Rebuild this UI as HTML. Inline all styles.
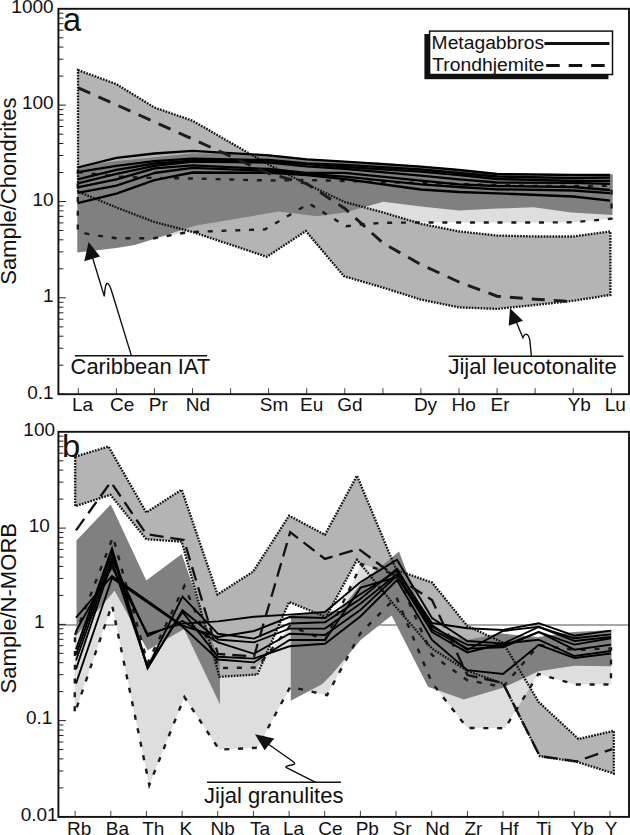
<!DOCTYPE html>
<html><head><meta charset="utf-8"><title>REE and trace element patterns</title>
<style>html,body{margin:0;padding:0;background:#fff}body{width:630px;height:835px;overflow:hidden}svg text{font-family:'Liberation Sans', Arial, Helvetica, sans-serif;}</style>
</head><body>
<svg width="630" height="835" viewBox="0 0 630 835" style="display:block" font-family='"Liberation Sans", Arial, Helvetica, sans-serif' fill="#111">
<rect width="630" height="835" fill="#fff"/>
<polygon points="77.8,172.0 116.4,176.5 154.4,178.0 192.5,178.5 268.6,180.5 306.7,180.0 344.8,181.0 382.9,182.0 420.9,183.0 459.0,184.0 497.1,185.0 535.1,186.0 573.2,186.0 611.5,185.7 611.5,218.7 573.2,222.3 535.1,222.5 497.1,222.5 459.0,222.5 420.9,222.5 382.9,222.8 365.0,224.0 346.0,226.3 309.0,203.5 265.0,229.4 230.7,230.5 192.5,232.0 183.0,233.0 154.4,238.2 116.4,238.2 90.0,234.5 77.8,231.5" fill="#dedede"/>
<polygon points="78.0,70.1 116.4,84.1 154.4,107.5 192.5,120.7 268.6,164.6 306.7,184.2 344.8,202.0 382.9,212.4 420.9,223.8 459.0,231.4 497.1,235.5 535.1,236.5 573.2,236.5 610.4,231.4 610.4,294.9 573.2,300.8 535.1,305.0 497.1,308.9 459.0,307.4 420.9,299.6 382.9,287.6 344.0,276.2 305.8,231.0 266.8,256.8 192.5,232.0 154.4,222.0 116.4,207.5 78.0,191.6" fill="#b4b4b4"/>
<polygon points="77.3,166.5 116.4,161.0 154.4,157.3 192.5,153.3 230.0,153.5 268.6,154.5 306.7,158.5 344.8,161.0 382.9,162.8 420.9,166.0 459.0,169.3 497.1,173.2 535.1,173.8 573.2,174.0 612.8,174.3 612.5,214.9 571.6,212.4 533.5,207.3 497.0,208.6 459.0,210.6 421.0,206.5 383.2,201.7 345.0,212.4 316.8,216.2 278.7,211.6 196.0,225.4 135.0,245.0 116.4,248.0 77.3,252.4" fill="#808080"/>
<polygon points="78.0,70.1 116.4,84.1 154.4,107.5 192.5,120.7 268.6,164.6 306.7,184.2 344.8,202.0 382.9,212.4 420.9,223.8 459.0,231.4 497.1,235.5 535.1,236.5 573.2,236.5 610.4,231.4 610.4,294.9 573.2,300.8 535.1,305.0 497.1,308.9 459.0,307.4 420.9,299.6 382.9,287.6 344.0,276.2 305.8,231.0 266.8,256.8 192.5,232.0 154.4,222.0 116.4,207.5 78.0,191.6" stroke="#111" stroke-width="2.3" stroke-dasharray="1.7 1.25" fill="none" stroke-linejoin="miter"/>
<polygon points="77.8,172.0 116.4,176.5 154.4,178.0 192.5,178.5 268.6,180.5 306.7,180.0 344.8,181.0 382.9,182.0 420.9,183.0 459.0,184.0 497.1,185.0 535.1,186.0 573.2,186.0 611.5,185.7 611.5,218.7 573.2,222.3 535.1,222.5 497.1,222.5 459.0,222.5 420.9,222.5 382.9,222.8 365.0,224.0 346.0,226.3 309.0,203.5 265.0,229.4 230.7,230.5 192.5,232.0 183.0,233.0 154.4,238.2 116.4,238.2 90.0,234.5 77.8,231.5" stroke="#1a1a1a" stroke-width="2.4" stroke-dasharray="5 8.8" fill="none"/>
<polyline points="77.6,167.5 116.4,157.9 154.4,153.5 192.5,150.8 268.6,155.3 306.7,159.3 344.8,161.7 420.9,166.7 459.0,170.0 497.1,174.0 573.2,175.0 610.0,175.0" fill="none" stroke="#000" stroke-width="2.3" stroke-linejoin="round"/>
<polyline points="77.6,172.2 116.4,165.9 154.4,161.1 192.5,158.7 268.6,160.0 306.7,163.3 344.8,164.8 420.9,169.5 459.0,173.0 497.1,176.5 573.2,178.1 610.0,177.7" fill="none" stroke="#000" stroke-width="2.3" stroke-linejoin="round"/>
<polyline points="77.6,179.4 116.4,169.8 154.4,163.5 192.5,160.6 268.6,161.7 306.7,164.0 344.8,167.0 420.9,171.7 459.0,175.0 497.1,179.0 573.2,180.8 610.0,180.8" fill="none" stroke="#000" stroke-width="2.3" stroke-linejoin="round"/>
<polyline points="77.6,183.3 116.4,173.8 154.4,165.9 192.5,161.5 268.6,162.5 306.7,166.4 344.8,168.8 420.9,175.6 459.0,179.4 497.1,182.5 573.2,182.9 610.0,183.9" fill="none" stroke="#000" stroke-width="2.3" stroke-linejoin="round"/>
<polyline points="77.6,187.3 116.4,179.4 154.4,168.3 192.5,165.4 268.6,169.0 306.7,172.8 344.8,172.8 420.9,180.6 459.0,184.4 497.1,186.0 573.2,187.0 610.0,190.0" fill="none" stroke="#000" stroke-width="2.3" stroke-linejoin="round"/>
<polyline points="77.6,192.9 116.4,185.7 154.4,173.0 192.5,167.8 268.6,171.0 306.7,174.0 344.8,176.7 420.9,184.4 459.0,187.0 497.1,189.3 573.2,190.5 610.0,193.2" fill="none" stroke="#000" stroke-width="2.3" stroke-linejoin="round"/>
<polyline points="77.6,203.2 116.4,193.7 154.4,180.2 192.5,172.5 268.6,172.8 306.7,175.2 344.8,179.1 420.9,189.5 459.0,192.0 497.1,193.3 573.2,196.5 610.0,200.6" fill="none" stroke="#000" stroke-width="2.3" stroke-linejoin="round"/>
<polyline points="78.3,87.9 116.4,104.8 154.4,121.9 192.5,139.0 268.6,173.5 306.7,183.7 344.8,208.5 382.9,243.0 420.9,264.5 459.0,282.0 497.1,296.2 535.1,299.2 568.0,301.3" fill="none" stroke="#1c1c1c" stroke-width="2.9" stroke-dasharray="13 9"/>
<line x1="58.4" y1="625.0" x2="629.0" y2="625.0" stroke="#8a8a8a" stroke-width="1.6"/>
<polygon points="75.2,456.7 108.5,446.5 146.3,512.5 181.7,489.7 217.5,594.5 253.2,571.6 289.1,515.7 324.9,534.8 357.0,475.7 396.3,570.0 432.0,582.5 467.3,626.0 503.0,642.5 538.7,702.0 578.5,739.0 613.8,730.8 613.8,773.5 576.7,761.8 539.8,756.2 503.0,683.5 467.3,671.0 432.0,648.6 396.3,607.4 357.0,559.8 326.0,617.0 289.1,602.0 257.3,674.5 219.4,676.8 181.7,541.7 146.3,539.2 110.5,494.8 75.2,506.2" fill="#b4b4b4"/>
<polygon points="75.0,635.0 113.0,537.0 147.6,663.0 184.4,586.0 219.3,668.0 257.0,667.5 290.0,626.0 325.0,640.0 361.5,564.0 397.0,575.0 432.0,655.0 467.0,680.0 503.0,687.0 538.7,645.0 575.0,650.0 611.0,648.4 611.0,684.5 575.4,684.5 538.4,674.0 505.0,728.2 467.3,728.0 432.0,683.0 396.3,597.0 360.6,633.0 327.0,695.2 290.3,686.8 257.3,747.8 219.2,749.6 184.4,697.0 149.3,785.0 112.0,604.8 74.7,713.5" fill="#dedede"/>
<polygon points="219.4,667.0 257.3,666.5 257.3,674.5 219.4,676.8" fill="#b4b4b4"/>
<polygon points="76.5,540.5 110.8,504.4 146.3,580.6 181.7,554.0 219.8,663.0 220.0,704.6 184.0,629.0 147.6,650.3 114.6,590.8 76.5,635.2" fill="#808080"/>
<polygon points="290.8,614.6 340.0,610.8 362.2,582.0 399.0,551.4 414.6,592.4 432.0,630.0 467.0,640.0 499.2,633.3 538.0,637.0 574.0,632.0 611.5,630.0 611.5,666.2 574.3,665.7 538.6,671.3 503.0,687.8 463.7,699.5 428.0,686.8 391.6,615.4 360.6,640.0 332.2,674.0 322.0,684.3 290.8,700.8" fill="#808080"/>
<polygon points="75.2,456.7 108.5,446.5 146.3,512.5 181.7,489.7 217.5,594.5 253.2,571.6 289.1,515.7 324.9,534.8 357.0,475.7 396.3,570.0 432.0,582.5 467.3,626.0 503.0,642.5 538.7,702.0 578.5,739.0 613.8,730.8 613.8,773.5 576.7,761.8 539.8,756.2 503.0,683.5 467.3,671.0 432.0,648.6 396.3,607.4 357.0,559.8 326.0,617.0 289.1,602.0 257.3,674.5 219.4,676.8 181.7,541.7 146.3,539.2 110.5,494.8 75.2,506.2" stroke="#111" stroke-width="2.3" stroke-dasharray="1.7 1.25" fill="none" stroke-linejoin="miter"/>
<polygon points="75.0,635.0 113.0,537.0 147.6,663.0 184.4,586.0 219.3,668.0 257.0,667.5 290.0,626.0 325.0,640.0 361.5,564.0 397.0,575.0 432.0,655.0 467.0,680.0 503.0,687.0 538.7,645.0 575.0,650.0 611.0,648.4 611.0,684.5 575.4,684.5 538.4,674.0 505.0,728.2 467.3,728.0 432.0,683.0 396.3,597.0 360.6,633.0 327.0,695.2 290.3,686.8 257.3,747.8 219.2,749.6 184.4,697.0 149.3,785.0 112.0,604.8 74.7,713.5" stroke="#1a1a1a" stroke-width="2.4" stroke-dasharray="5 8.8" fill="none"/>
<polyline points="76.0,617.6 112.0,576.0 182.5,625.6 218.0,637.0 254.0,631.0 289.5,617.0 325.0,618.0 360.6,594.0 397.0,571.0 432.0,623.0 467.3,628.3 503.0,630.0 538.7,623.2 574.5,635.7 611.0,630.6" fill="none" stroke="#000" stroke-width="1.9" stroke-linejoin="miter"/>
<polyline points="76.0,631.1 112.0,566.8 147.6,633.9 182.5,623.6 218.0,621.4 254.0,616.7 289.5,614.6 325.0,612.0 360.6,582.0 397.0,559.8 432.0,618.0 467.3,641.0 503.0,643.5 538.7,627.0 574.5,638.3 611.0,634.4" fill="none" stroke="#000" stroke-width="1.9" stroke-linejoin="miter"/>
<polyline points="76.0,649.4 112.0,548.3 147.6,667.5 182.5,596.7 218.0,633.8 254.0,638.6 289.5,623.5 325.0,622.2 360.6,598.7 397.0,568.6 432.0,627.0 467.3,644.8 503.0,646.0 538.7,632.0 574.5,644.6 611.0,638.3" fill="none" stroke="#000" stroke-width="1.9" stroke-linejoin="miter"/>
<polyline points="76.0,654.9 112.0,553.0 147.6,668.5 182.5,610.2 218.0,639.5 254.0,642.4 289.5,628.6 325.0,628.6 360.6,603.5 397.0,574.0 432.0,629.5 467.3,648.6 503.0,647.3 538.7,632.0 574.5,649.7 611.0,644.6" fill="none" stroke="#000" stroke-width="1.9" stroke-linejoin="miter"/>
<polyline points="76.0,660.5 112.0,558.6 147.6,636.0 182.5,621.0 218.0,642.4 254.0,653.8 289.5,633.7 325.0,635.0 360.6,609.8 397.0,575.7 432.0,632.0 467.3,652.4 503.0,643.5 538.7,639.7 574.5,656.0 611.0,651.0" fill="none" stroke="#000" stroke-width="1.9" stroke-linejoin="miter"/>
<polyline points="76.0,669.2 112.0,562.0 147.6,667.0 182.5,612.0 218.0,656.7 254.0,658.6 289.5,646.3 325.0,643.8 360.6,616.2 397.0,580.0 432.0,640.0 467.3,670.2 503.0,674.0 538.7,644.8 574.5,658.0 611.0,653.5" fill="none" stroke="#000" stroke-width="1.9" stroke-linejoin="miter"/>
<polyline points="76.0,683.5 112.0,578.0 182.5,626.5 218.0,659.5 254.0,662.4 289.5,640.0 325.0,640.0 360.6,587.6 397.0,577.0 432.0,625.0 467.3,650.0 503.0,631.0 538.7,626.8 574.5,641.0 611.0,637.0" fill="none" stroke="#000" stroke-width="1.9" stroke-linejoin="miter"/>
<polyline points="76.0,530.3 110.8,482.0 146.3,534.1 184.0,540.0 218.0,654.0 254.0,656.5 290.2,532.2 324.9,558.9 358.5,548.9 396.3,577.0 432.0,600.0 467.3,675.0 503.0,683.0 539.8,756.2 576.7,761.3 612.2,749.1" fill="none" stroke="#111" stroke-width="2.3" stroke-dasharray="14 7"/>
<line x1="58.4" y1="105.1" x2="65.9" y2="105.1" stroke="#222" stroke-width="1"/>
<line x1="58.4" y1="76.1" x2="63.4" y2="76.1" stroke="#222" stroke-width="1"/>
<line x1="58.4" y1="59.2" x2="63.4" y2="59.2" stroke="#222" stroke-width="1"/>
<line x1="58.4" y1="47.1" x2="63.4" y2="47.1" stroke="#222" stroke-width="1"/>
<line x1="58.4" y1="37.8" x2="63.4" y2="37.8" stroke="#222" stroke-width="1"/>
<line x1="58.4" y1="30.2" x2="63.4" y2="30.2" stroke="#222" stroke-width="1"/>
<line x1="58.4" y1="23.7" x2="63.4" y2="23.7" stroke="#222" stroke-width="1"/>
<line x1="58.4" y1="18.1" x2="63.4" y2="18.1" stroke="#222" stroke-width="1"/>
<line x1="58.4" y1="13.2" x2="63.4" y2="13.2" stroke="#222" stroke-width="1"/>
<line x1="58.4" y1="201.5" x2="65.9" y2="201.5" stroke="#222" stroke-width="1"/>
<line x1="58.4" y1="172.5" x2="63.4" y2="172.5" stroke="#222" stroke-width="1"/>
<line x1="58.4" y1="155.5" x2="63.4" y2="155.5" stroke="#222" stroke-width="1"/>
<line x1="58.4" y1="143.5" x2="63.4" y2="143.5" stroke="#222" stroke-width="1"/>
<line x1="58.4" y1="134.2" x2="63.4" y2="134.2" stroke="#222" stroke-width="1"/>
<line x1="58.4" y1="126.5" x2="63.4" y2="126.5" stroke="#222" stroke-width="1"/>
<line x1="58.4" y1="120.1" x2="63.4" y2="120.1" stroke="#222" stroke-width="1"/>
<line x1="58.4" y1="114.5" x2="63.4" y2="114.5" stroke="#222" stroke-width="1"/>
<line x1="58.4" y1="109.6" x2="63.4" y2="109.6" stroke="#222" stroke-width="1"/>
<line x1="58.4" y1="297.8" x2="65.9" y2="297.8" stroke="#222" stroke-width="1"/>
<line x1="58.4" y1="268.8" x2="63.4" y2="268.8" stroke="#222" stroke-width="1"/>
<line x1="58.4" y1="251.9" x2="63.4" y2="251.9" stroke="#222" stroke-width="1"/>
<line x1="58.4" y1="239.8" x2="63.4" y2="239.8" stroke="#222" stroke-width="1"/>
<line x1="58.4" y1="230.5" x2="63.4" y2="230.5" stroke="#222" stroke-width="1"/>
<line x1="58.4" y1="222.9" x2="63.4" y2="222.9" stroke="#222" stroke-width="1"/>
<line x1="58.4" y1="216.4" x2="63.4" y2="216.4" stroke="#222" stroke-width="1"/>
<line x1="58.4" y1="210.8" x2="63.4" y2="210.8" stroke="#222" stroke-width="1"/>
<line x1="58.4" y1="205.9" x2="63.4" y2="205.9" stroke="#222" stroke-width="1"/>
<line x1="58.4" y1="394.2" x2="65.9" y2="394.2" stroke="#222" stroke-width="1"/>
<line x1="58.4" y1="365.2" x2="63.4" y2="365.2" stroke="#222" stroke-width="1"/>
<line x1="58.4" y1="348.2" x2="63.4" y2="348.2" stroke="#222" stroke-width="1"/>
<line x1="58.4" y1="336.2" x2="63.4" y2="336.2" stroke="#222" stroke-width="1"/>
<line x1="58.4" y1="326.9" x2="63.4" y2="326.9" stroke="#222" stroke-width="1"/>
<line x1="58.4" y1="319.2" x2="63.4" y2="319.2" stroke="#222" stroke-width="1"/>
<line x1="58.4" y1="312.8" x2="63.4" y2="312.8" stroke="#222" stroke-width="1"/>
<line x1="58.4" y1="307.2" x2="63.4" y2="307.2" stroke="#222" stroke-width="1"/>
<line x1="58.4" y1="302.3" x2="63.4" y2="302.3" stroke="#222" stroke-width="1"/>
<line x1="58.4" y1="528.1" x2="65.9" y2="528.1" stroke="#222" stroke-width="1"/>
<line x1="58.4" y1="499.1" x2="63.4" y2="499.1" stroke="#222" stroke-width="1"/>
<line x1="58.4" y1="482.1" x2="63.4" y2="482.1" stroke="#222" stroke-width="1"/>
<line x1="58.4" y1="470.1" x2="63.4" y2="470.1" stroke="#222" stroke-width="1"/>
<line x1="58.4" y1="460.8" x2="63.4" y2="460.8" stroke="#222" stroke-width="1"/>
<line x1="58.4" y1="453.2" x2="63.4" y2="453.2" stroke="#222" stroke-width="1"/>
<line x1="58.4" y1="446.7" x2="63.4" y2="446.7" stroke="#222" stroke-width="1"/>
<line x1="58.4" y1="441.1" x2="63.4" y2="441.1" stroke="#222" stroke-width="1"/>
<line x1="58.4" y1="436.2" x2="63.4" y2="436.2" stroke="#222" stroke-width="1"/>
<line x1="58.4" y1="624.4" x2="65.9" y2="624.4" stroke="#222" stroke-width="1"/>
<line x1="58.4" y1="595.4" x2="63.4" y2="595.4" stroke="#222" stroke-width="1"/>
<line x1="58.4" y1="578.4" x2="63.4" y2="578.4" stroke="#222" stroke-width="1"/>
<line x1="58.4" y1="566.4" x2="63.4" y2="566.4" stroke="#222" stroke-width="1"/>
<line x1="58.4" y1="557.1" x2="63.4" y2="557.1" stroke="#222" stroke-width="1"/>
<line x1="58.4" y1="549.4" x2="63.4" y2="549.4" stroke="#222" stroke-width="1"/>
<line x1="58.4" y1="543.0" x2="63.4" y2="543.0" stroke="#222" stroke-width="1"/>
<line x1="58.4" y1="537.4" x2="63.4" y2="537.4" stroke="#222" stroke-width="1"/>
<line x1="58.4" y1="532.5" x2="63.4" y2="532.5" stroke="#222" stroke-width="1"/>
<line x1="58.4" y1="720.6" x2="65.9" y2="720.6" stroke="#222" stroke-width="1"/>
<line x1="58.4" y1="691.6" x2="63.4" y2="691.6" stroke="#222" stroke-width="1"/>
<line x1="58.4" y1="674.7" x2="63.4" y2="674.7" stroke="#222" stroke-width="1"/>
<line x1="58.4" y1="662.7" x2="63.4" y2="662.7" stroke="#222" stroke-width="1"/>
<line x1="58.4" y1="653.3" x2="63.4" y2="653.3" stroke="#222" stroke-width="1"/>
<line x1="58.4" y1="645.7" x2="63.4" y2="645.7" stroke="#222" stroke-width="1"/>
<line x1="58.4" y1="639.3" x2="63.4" y2="639.3" stroke="#222" stroke-width="1"/>
<line x1="58.4" y1="633.7" x2="63.4" y2="633.7" stroke="#222" stroke-width="1"/>
<line x1="58.4" y1="628.8" x2="63.4" y2="628.8" stroke="#222" stroke-width="1"/>
<line x1="58.4" y1="816.9" x2="65.9" y2="816.9" stroke="#222" stroke-width="1"/>
<line x1="58.4" y1="787.9" x2="63.4" y2="787.9" stroke="#222" stroke-width="1"/>
<line x1="58.4" y1="771.0" x2="63.4" y2="771.0" stroke="#222" stroke-width="1"/>
<line x1="58.4" y1="758.9" x2="63.4" y2="758.9" stroke="#222" stroke-width="1"/>
<line x1="58.4" y1="749.6" x2="63.4" y2="749.6" stroke="#222" stroke-width="1"/>
<line x1="58.4" y1="742.0" x2="63.4" y2="742.0" stroke="#222" stroke-width="1"/>
<line x1="58.4" y1="735.5" x2="63.4" y2="735.5" stroke="#222" stroke-width="1"/>
<line x1="58.4" y1="730.0" x2="63.4" y2="730.0" stroke="#222" stroke-width="1"/>
<line x1="58.4" y1="725.0" x2="63.4" y2="725.0" stroke="#222" stroke-width="1"/>
<line x1="78.3" y1="394.2" x2="78.3" y2="388.2" stroke="#444" stroke-width="1"/>
<line x1="116.4" y1="394.2" x2="116.4" y2="388.2" stroke="#444" stroke-width="1"/>
<line x1="154.4" y1="394.2" x2="154.4" y2="388.2" stroke="#444" stroke-width="1"/>
<line x1="192.5" y1="394.2" x2="192.5" y2="388.2" stroke="#444" stroke-width="1"/>
<line x1="230.6" y1="394.2" x2="230.6" y2="388.2" stroke="#444" stroke-width="1"/>
<line x1="268.6" y1="394.2" x2="268.6" y2="388.2" stroke="#444" stroke-width="1"/>
<line x1="306.7" y1="394.2" x2="306.7" y2="388.2" stroke="#444" stroke-width="1"/>
<line x1="344.8" y1="394.2" x2="344.8" y2="388.2" stroke="#444" stroke-width="1"/>
<line x1="382.9" y1="394.2" x2="382.9" y2="388.2" stroke="#444" stroke-width="1"/>
<line x1="420.9" y1="394.2" x2="420.9" y2="388.2" stroke="#444" stroke-width="1"/>
<line x1="459.0" y1="394.2" x2="459.0" y2="388.2" stroke="#444" stroke-width="1"/>
<line x1="497.1" y1="394.2" x2="497.1" y2="388.2" stroke="#444" stroke-width="1"/>
<line x1="535.1" y1="394.2" x2="535.1" y2="388.2" stroke="#444" stroke-width="1"/>
<line x1="573.2" y1="394.2" x2="573.2" y2="388.2" stroke="#444" stroke-width="1"/>
<line x1="611.3" y1="394.2" x2="611.3" y2="388.2" stroke="#444" stroke-width="1"/>
<line x1="75.1" y1="816.9" x2="75.1" y2="810.9" stroke="#444" stroke-width="1"/>
<line x1="110.8" y1="816.9" x2="110.8" y2="810.9" stroke="#444" stroke-width="1"/>
<line x1="146.4" y1="816.9" x2="146.4" y2="810.9" stroke="#444" stroke-width="1"/>
<line x1="182.1" y1="816.9" x2="182.1" y2="810.9" stroke="#444" stroke-width="1"/>
<line x1="217.7" y1="816.9" x2="217.7" y2="810.9" stroke="#444" stroke-width="1"/>
<line x1="253.4" y1="816.9" x2="253.4" y2="810.9" stroke="#444" stroke-width="1"/>
<line x1="289.1" y1="816.9" x2="289.1" y2="810.9" stroke="#444" stroke-width="1"/>
<line x1="324.7" y1="816.9" x2="324.7" y2="810.9" stroke="#444" stroke-width="1"/>
<line x1="360.4" y1="816.9" x2="360.4" y2="810.9" stroke="#444" stroke-width="1"/>
<line x1="396.0" y1="816.9" x2="396.0" y2="810.9" stroke="#444" stroke-width="1"/>
<line x1="431.7" y1="816.9" x2="431.7" y2="810.9" stroke="#444" stroke-width="1"/>
<line x1="467.4" y1="816.9" x2="467.4" y2="810.9" stroke="#444" stroke-width="1"/>
<line x1="503.0" y1="816.9" x2="503.0" y2="810.9" stroke="#444" stroke-width="1"/>
<line x1="538.7" y1="816.9" x2="538.7" y2="810.9" stroke="#444" stroke-width="1"/>
<line x1="574.3" y1="816.9" x2="574.3" y2="810.9" stroke="#444" stroke-width="1"/>
<line x1="610.0" y1="816.9" x2="610.0" y2="810.9" stroke="#444" stroke-width="1"/>
<rect x="58.4" y="8.8" width="570.6" height="385.4" fill="none" stroke="#111" stroke-width="1.9"/>
<rect x="58.4" y="431.8" width="570.6" height="385.09999999999997" fill="none" stroke="#111" stroke-width="1.9"/>
<text x="53.6" y="13.1" font-size="19" text-anchor="end">1000</text>
<text x="53.6" y="109.4" font-size="19" text-anchor="end">100</text>
<text x="53.6" y="205.8" font-size="19" text-anchor="end">10</text>
<text x="53.6" y="302.1" font-size="19" text-anchor="end">1</text>
<text x="53.6" y="398.5" font-size="19" text-anchor="end">0.1</text>
<text x="39.2" y="436.0" font-size="19" text-anchor="middle">100</text>
<text x="39.2" y="532.1" font-size="19" text-anchor="middle">10</text>
<text x="39.2" y="627.6" font-size="19" text-anchor="middle">1</text>
<text x="39.2" y="724.0" font-size="19" text-anchor="middle">0.1</text>
<text x="39.2" y="820.5" font-size="19" text-anchor="middle">0.01</text>
<text x="71.9" y="411.3" font-size="19">La</text>
<text x="110.0" y="411.3" font-size="19">Ce</text>
<text x="148.8" y="411.3" font-size="19">Pr</text>
<text x="185.7" y="411.3" font-size="19">Nd</text>
<text x="259.8" y="411.3" font-size="19">Sm</text>
<text x="300.1" y="411.3" font-size="19">Eu</text>
<text x="337.3" y="411.3" font-size="19">Gd</text>
<text x="413.9" y="411.3" font-size="19">Dy</text>
<text x="451.5" y="411.3" font-size="19">Ho</text>
<text x="490.5" y="411.3" font-size="19">Er</text>
<text x="567.7" y="411.3" font-size="19">Yb</text>
<text x="604.8" y="411.3" font-size="19">Lu</text>
<text x="67.1" y="835.2" font-size="19">Rb</text>
<text x="105.8" y="835.2" font-size="19">Ba</text>
<text x="142.2" y="835.2" font-size="19">Th</text>
<text x="179.6" y="835.2" font-size="19">K</text>
<text x="210.6" y="835.2" font-size="19">Nb</text>
<text x="249.9" y="835.2" font-size="19">Ta</text>
<text x="282.9" y="835.2" font-size="19">La</text>
<text x="318.2" y="835.2" font-size="19">Ce</text>
<text x="355.7" y="835.2" font-size="19">Pb</text>
<text x="392.5" y="835.2" font-size="19">Sr</text>
<text x="425.2" y="835.2" font-size="19">Nd</text>
<text x="464.5" y="835.2" font-size="19">Zr</text>
<text x="499.5" y="835.2" font-size="19">Hf</text>
<text x="536.3" y="835.2" font-size="19">Ti</text>
<text x="570.5" y="835.2" font-size="19">Yb</text>
<text x="604.8" y="835.2" font-size="19">Y</text>
<text transform="translate(16.4,284.8) rotate(-90)" font-size="21.8" textLength="187.2" lengthAdjust="spacingAndGlyphs">Sample/Chondrites</text>
<text transform="translate(16.4,693.4) rotate(-90)" font-size="21.8" textLength="170.5" lengthAdjust="spacingAndGlyphs">Sample/N-MORB</text>
<text x="62.9" y="30.5" font-size="32.6">a</text>
<text x="61.9" y="457" font-size="31.2" textLength="18.2" lengthAdjust="spacingAndGlyphs">b</text>
<rect x="424.4" y="34" width="184" height="45.2" fill="#111"/>
<rect x="429.6" y="31.1" width="182.9" height="43.4" fill="#fff" stroke="#111" stroke-width="1.5"/>
<text x="431.6" y="48.7" font-size="18" textLength="112.5" lengthAdjust="spacingAndGlyphs">Metagabbros</text>
<text x="432.2" y="71.4" font-size="18" textLength="112.2" lengthAdjust="spacingAndGlyphs">Trondhjemite</text>
<line x1="544.4" y1="43.4" x2="609.4" y2="43.4" stroke="#111" stroke-width="3"/>
<line x1="546.2" y1="65.4" x2="606" y2="65.4" stroke="#111" stroke-width="3" stroke-dasharray="13.5 9"/>
<line x1="74.9" y1="355.7" x2="207.1" y2="355.7" stroke="#111" stroke-width="1.4"/>
<text x="70.6" y="374.4" font-size="21.6" textLength="139.5" lengthAdjust="spacingAndGlyphs">Caribbean IAT</text>
<polygon points="88.6,242.1 84.3,261.3 100.0,256.4" fill="#111"/>
<path d="M92.5,257.5 L104.3,296.4 C104.8,290 105.5,283 107.4,283.4 C109.8,284 111,289 112.2,293 L131.4,355.6" fill="none" stroke="#111" stroke-width="1.4"/>
<line x1="448.6" y1="356.2" x2="623.4" y2="356.2" stroke="#111" stroke-width="1.4"/>
<text x="448.4" y="374" font-size="22" textLength="168.4" lengthAdjust="spacingAndGlyphs">Jijal leucotonalite</text>
<polygon points="510.0,308.2 508.7,325.8 523.0,320.8" fill="#111"/>
<path d="M516.5,322.5 L522.9,337.7 C524,335 525.5,333.5 527.3,334.5 C529,335.8 529.3,338 529.8,340 L531.4,356" fill="none" stroke="#111" stroke-width="1.4"/>
<line x1="207.1" y1="782.3" x2="340.9" y2="782.3" stroke="#111" stroke-width="1.4"/>
<text x="204" y="802.9" font-size="22" textLength="139.4" lengthAdjust="spacingAndGlyphs">Jijal granulites</text>
<polygon points="255.0,734.3 274.2,738.5 264.6,750.2" fill="#111"/>
<path d="M268.5,744.2 L293,761.5 C295.5,763.3 295,764.6 292,765 C288,765.6 284.5,766.3 286.5,767.6 L315.7,782.3" fill="none" stroke="#111" stroke-width="1.4"/>
</svg>
</body></html>
